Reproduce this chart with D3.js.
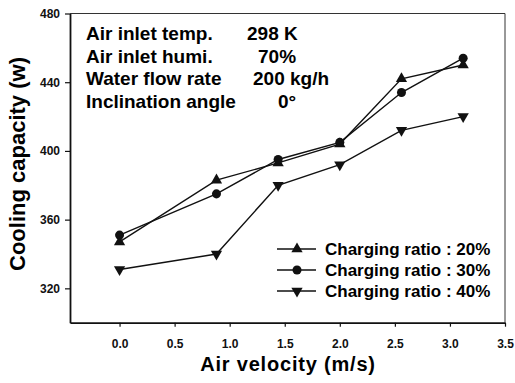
<!DOCTYPE html>
<html>
<head>
<meta charset="utf-8">
<script src="https://cdn.jsdelivr.net/npm/d3@7"></script>
<style>
  html, body { margin: 0; padding: 0; background: #fff; }
  svg { display: block; font-family: "Liberation Sans", Arial, sans-serif; }
</style>
</head>
<body>
<div id="chart"></div>
<script>
// air velocity (m/s)
const velocity = [0.0, 0.88, 1.44, 2.0, 2.56, 3.12];
// cooling capacity (W) per charging ratio
const cap20 = [347, 383, 393, 404, 442, 450];
const cap30 = [351, 375, 395, 405, 434, 454];
const cap40 = [331, 340, 380, 392, 412, 420];

const seriesNames = ["Charging ratio : 20%", "Charging ratio : 30%", "Charging ratio : 40%"];
const seriesValues = [cap20, cap30, cap40];
const seriesMarkers = ["triangle", "circle", "triangleDown"];

const xTicks = [0.0, 0.5, 1.0, 1.5, 2.0, 2.5, 3.0, 3.5];
const yTicks = [320, 360, 400, 440, 480];

const infoLabels = ["Air inlet temp.", "Air inlet humi.", "Water flow rate", "Inclination angle"];
const infoValues = ["298 K", "70%", "200 kg/h", "0°"];

const width = 515;
const height = 383;
const plot = { left: 70, top: 13.5, right: 505, bottom: 322.7 };

const x = d3.scaleLinear().domain([-0.45, 3.5]).range([plot.left, plot.right]);
const y = d3.scaleLinear().domain([300, 480]).range([plot.bottom, plot.top]);

const svg = d3.select("#chart")
  .append("svg")
  .attr("width", width)
  .attr("height", height);

// frame: heavy left/bottom, light top/right
svg.append("line")
  .attr("x1", plot.left).attr("x2", plot.right)
  .attr("y1", plot.top).attr("y2", plot.top)
  .attr("stroke", "#333").attr("stroke-width", 1);
svg.append("line")
  .attr("x1", plot.right).attr("x2", plot.right)
  .attr("y1", plot.top).attr("y2", plot.bottom)
  .attr("stroke", "#333").attr("stroke-width", 1);

const xAxis = svg.append("g")
  .attr("transform", `translate(0,${plot.bottom})`)
  .call(d3.axisBottom(x).tickValues(xTicks).tickFormat(d3.format(".1f")).tickSize(4).tickSizeOuter(0));

const yAxis = svg.append("g")
  .attr("transform", `translate(${plot.left},0)`)
  .call(d3.axisLeft(y).tickValues(yTicks).tickFormat(d3.format("d")).tickSize(5).tickSizeOuter(0));

[xAxis, yAxis].forEach((ax) => {
  ax.select(".domain").attr("stroke", "#111").attr("stroke-width", 1.8);
  ax.selectAll(".tick line").attr("stroke", "#111").attr("stroke-width", 1.2);
  ax.selectAll(".tick text")
    .attr("fill", "#111")
    .style("font-size", "12px")
    .style("font-weight", "bold")
    .style("font-family", "'Liberation Sans', Arial, sans-serif");
});
// x tick labels: baseline ~348
xAxis.selectAll(".tick text").attr("y", 25).attr("dy", null);
yAxis.selectAll(".tick text").attr("x", -10);

// axis titles
svg.append("text")
  .attr("x", 288).attr("y", 371)
  .attr("text-anchor", "middle")
  .style("font-size", "20px").style("font-weight", "bold")
  .style("letter-spacing", "0.8px")
  .text("Air velocity (m/s)");

svg.append("text")
  .attr("transform", "translate(25,164) rotate(-90)")
  .attr("text-anchor", "middle")
  .style("font-size", "22px").style("font-weight", "bold")
  .text("Cooling capacity (w)");

// conditions block
const infoY = [40, 62.5, 85, 107.5];
const infoX = [247, 258, 253, 278];
svg.append("g").selectAll("text.lab")
  .data(infoLabels)
  .join("text")
  .attr("x", 86)
  .attr("y", (d, i) => infoY[i])
  .style("font-size", "19px").style("font-weight", "bold")
  .text((d) => d);
svg.append("g").selectAll("text.val")
  .data(infoValues)
  .join("text")
  .attr("x", (d, i) => infoX[i])
  .attr("y", (d, i) => infoY[i])
  .style("font-size", "19px").style("font-weight", "bold")
  .text((d) => d);

// markers
const markerSymbol = {
  triangle: d3.symbol().type(d3.symbolTriangle).size(55),
  circle: d3.symbol().type(d3.symbolCircle).size(64),
  triangleDown: d3.symbol().type(d3.symbolTriangle).size(55),
};
function markerTransform(kind, px, py) {
  return kind === "triangleDown"
    ? `translate(${px},${py}) rotate(180)`
    : `translate(${px},${py})`;
}

const line = d3.line()
  .x((d) => x(d[0]))
  .y((d) => y(d[1]));

seriesValues.forEach((vals, s) => {
  const pts = velocity.map((v, i) => [v, vals[i]]);
  const g = svg.append("g");
  g.append("path")
    .datum(pts)
    .attr("d", line)
    .attr("fill", "none")
    .attr("stroke", "#111")
    .attr("stroke-width", 1.4);
  g.selectAll("path.m")
    .data(pts)
    .join("path")
    .attr("class", "m")
    .attr("d", markerSymbol[seriesMarkers[s]])
    .attr("transform", (d) => markerTransform(seriesMarkers[s], x(d[0]), y(d[1])))
    .attr("fill", "#111");
});

// legend
const legendY = [249, 270, 291];
const legend = svg.append("g").selectAll("g")
  .data(seriesNames)
  .join("g")
  .attr("transform", (d, i) => `translate(0,${legendY[i]})`);
legend.append("line")
  .attr("x1", 277).attr("x2", 316)
  .attr("stroke", "#111").attr("stroke-width", 1.4);
legend.append("path")
  .attr("d", (d, i) => markerSymbol[seriesMarkers[i]]())
  .attr("transform", (d, i) => markerTransform(seriesMarkers[i], 297, 0))
  .attr("fill", "#111");
legend.append("text")
  .attr("x", 325)
  .attr("y", 5.5)
  .style("font-size", "17px").style("font-weight", "bold")
  .text((d) => d);
</script>
</body>
</html>
